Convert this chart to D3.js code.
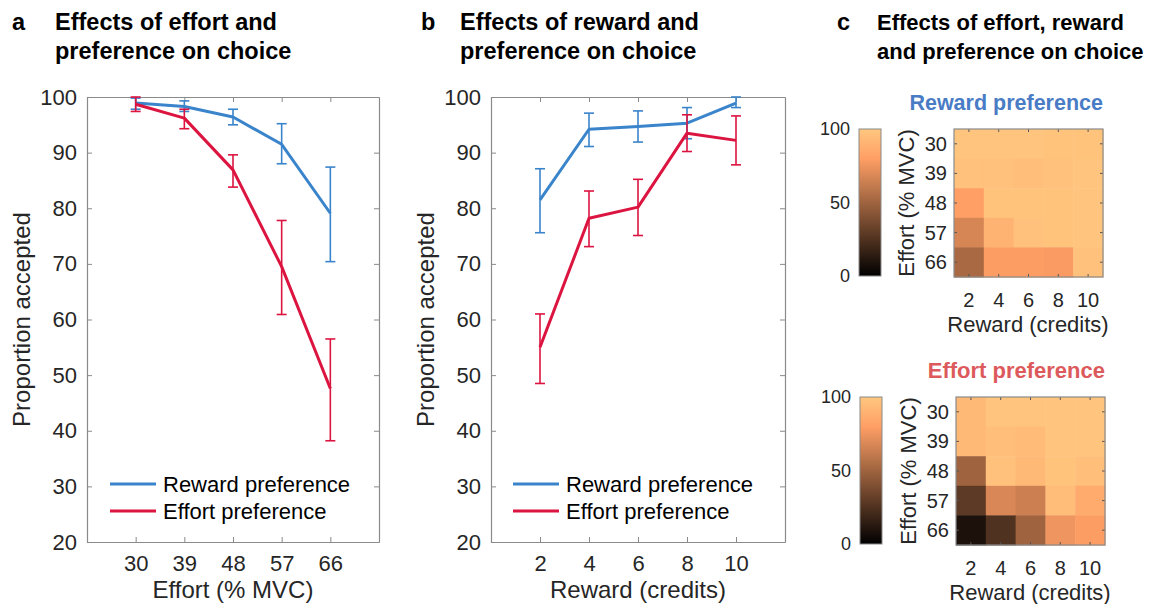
<!DOCTYPE html>
<html>
<head>
<meta charset="utf-8">
<script src="https://cdn.jsdelivr.net/npm/d3@7"></script>
<style>
  body { margin: 0; background: #fff; }
  svg { display: block; font-family: "Liberation Sans", Arial, Helvetica, sans-serif; }
  .title { font-weight: bold; font-size: 23.5px; fill: #000; }
  .tick text { font-size: 22px; fill: #262626; }
  .axis path, .axis line { stroke: #8a8a8a; }
  .lab { font-size: 24px; fill: #262626; }
  .leg { font-size: 22px; fill: #000; }
  .hlab { font-size: 22px; fill: #262626; }
  .htick { font-size: 20px; fill: #262626; }
  .cbtick { font-size: 18px; fill: #262626; }
</style>
</head>
<body>
<div id="chart"></div>
<script>
// x categories
const effortLevels = [30, 39, 48, 57, 66]
const rewardLevels = [2, 4, 6, 8, 10]
const yTicks = [20, 30, 40, 50, 60, 70, 80, 90, 100]

// panel a : by effort
const rewardPrefByEffort   = [98.9, 98.3, 96.4, 91.5, 79.1]
const rewardPrefByEffortLo = [97.8, 97.4, 95.0, 88.0, 70.4]
const rewardPrefByEffortHi = [99.8, 99.3, 97.8, 95.2, 87.4]
const effortPrefByEffort   = [98.7, 96.2, 86.9, 69.5, 47.6]
const effortPrefByEffortLo = [97.4, 94.3, 83.8, 60.9, 38.2]
const effortPrefByEffortHi = [100.0, 97.8, 89.6, 77.8, 56.5]

// panel b : by reward
const rewardPrefByReward   = [81.5, 94.2, 94.7, 95.3, 98.9]
const rewardPrefByRewardLo = [75.6, 91.1, 91.9, 92.5, 98.1]
const rewardPrefByRewardHi = [87.1, 97.1, 97.5, 98.1, 100.0]
const effortPrefByReward   = [55.0, 78.2, 80.2, 93.5, 92.2]
const effortPrefByRewardLo = [48.5, 73.1, 75.1, 90.2, 87.8]
const effortPrefByRewardHi = [61.0, 83.1, 85.2, 96.8, 96.6]

// panel c : rows = effort 30..66, cols = reward 2..10
const rewardPrefGrid = [
  [99, 99, 99, 98, 98],
  [97, 97, 96, 97, 99],
  [80, 98, 98, 98, 99],
  [67, 90, 97, 98, 99],
  [53, 79, 79, 78, 97]
]
const effortPrefGrid = [
  [93, 99, 99, 99, 99],
  [93, 96, 94, 99, 99],
  [50, 97, 93, 98, 96],
  [29, 68, 64, 95, 86],
  [9, 25, 50, 75, 79]
]
const colorbarTicks = [0, 50, 100]

const blue = '#3a84cb'
const red = '#dc1440'

const svg = d3.select('#chart').append('svg')
  .attr('width', 1157)
  .attr('height', 604)

svg.append('rect').attr('width', 1157).attr('height', 604).attr('fill', '#fff')

// titles
const titles = [
  {x: 12, tx: 55, size: 23.5, letter: 'a', lines: ['Effects of effort and', 'preference on choice']},
  {x: 421, tx: 460, size: 23.5, letter: 'b', lines: ['Effects of reward and', 'preference on choice']},
  {x: 837, tx: 877, size: 22, letter: 'c', lines: ['Effects of effort, reward', 'and preference on choice']}
]
titles.forEach(t => {
  svg.append('text').attr('class', 'title').attr('x', t.x).attr('y', 30).text(t.letter)
  t.lines.forEach((l, i) => {
    svg.append('text').attr('class', 'title').attr('x', t.tx).attr('y', 30 + i * 29)
      .style('font-size', t.size + 'px').text(l)
  })
})

const copper = v => {
  let x = v / 100
  return d3.rgb(255 * Math.min(1, 1.25 * x), 255 * 0.7812 * x, 255 * 0.4975 * x)
}

function linePanel(cfg) {
  const x = d3.scaleLinear().domain(cfg.xDomain).range([cfg.left, cfg.right])
  const y = d3.scaleLinear().domain([20, 100]).range([542, 97])
  const g = svg.append('g')
  const h = 542 - 97, w = cfg.right - cfg.left

  g.append('g').attr('class', 'axis').attr('transform', `translate(${cfg.left},0)`)
    .call(d3.axisLeft(y).tickValues(yTicks).tickSizeInner(-5).tickSizeOuter(0).tickPadding(10))
  g.append('g').attr('class', 'axis').attr('transform', `translate(${cfg.right},0)`)
    .call(d3.axisRight(y).tickValues(yTicks).tickSizeInner(-5).tickSizeOuter(0).tickFormat(''))
  g.append('g').attr('class', 'axis').attr('transform', 'translate(0,542)')
    .call(d3.axisBottom(x).tickValues(cfg.cats).tickSizeInner(-5).tickSizeOuter(0).tickPadding(13))
  g.append('g').attr('class', 'axis').attr('transform', 'translate(0,97)')
    .call(d3.axisTop(x).tickValues(cfg.cats).tickSizeInner(-5).tickSizeOuter(0).tickFormat(''))
  g.selectAll('.domain').attr('stroke', '#8a8a8a').attr('stroke-width', 1.2)

  g.append('text').attr('class', 'lab')
    .attr('transform', `translate(${cfg.left - 57},${97 + h / 2}) rotate(-90)`)
    .attr('text-anchor', 'middle').text('Proportion accepted')
  g.append('text').attr('class', 'lab')
    .attr('x', cfg.left + w / 2).attr('y', 598)
    .attr('text-anchor', 'middle').text(cfg.xLabel)

  cfg.series.forEach(s => {
    const pts = cfg.cats.map((c, i) => ({c, m: s.mean[i], lo: s.lo[i], hi: s.hi[i]}))
    const eb = g.append('g').attr('stroke', s.color).attr('stroke-width', 1.6)
    eb.selectAll('.v').data(pts).enter().append('line')
      .attr('x1', d => x(d.c)).attr('x2', d => x(d.c))
      .attr('y1', d => y(d.lo)).attr('y2', d => y(d.hi))
    eb.selectAll('.t').data(pts).enter().append('line')
      .attr('x1', d => x(d.c) - 5).attr('x2', d => x(d.c) + 5)
      .attr('y1', d => y(d.hi)).attr('y2', d => y(d.hi))
    eb.selectAll('.b').data(pts).enter().append('line')
      .attr('x1', d => x(d.c) - 5).attr('x2', d => x(d.c) + 5)
      .attr('y1', d => y(d.lo)).attr('y2', d => y(d.lo))
    g.append('path').datum(pts)
      .attr('fill', 'none').attr('stroke', s.color).attr('stroke-width', 3)
      .attr('stroke-linejoin', 'round')
      .attr('d', d3.line().x(d => x(d.c)).y(d => y(d.m)))
  })

  cfg.series.forEach((s, i) => {
    let ly = 484 + i * 27
    g.append('line').attr('x1', cfg.legX).attr('x2', cfg.legX + 46)
      .attr('y1', ly).attr('y2', ly).attr('stroke', s.color).attr('stroke-width', 3)
    g.append('text').attr('class', 'leg').attr('x', cfg.legX + 53).attr('y', ly + 8).text(s.name)
  })
}

linePanel({
  left: 87, right: 379, xDomain: [21, 75], cats: effortLevels, xLabel: 'Effort (% MVC)', legX: 110,
  series: [
    {name: 'Reward preference', color: blue, mean: rewardPrefByEffort, lo: rewardPrefByEffortLo, hi: rewardPrefByEffortHi},
    {name: 'Effort preference', color: red, mean: effortPrefByEffort, lo: effortPrefByEffortLo, hi: effortPrefByEffortHi}
  ]
})

linePanel({
  left: 491, right: 785, xDomain: [0, 12], cats: rewardLevels, xLabel: 'Reward (credits)', legX: 513,
  series: [
    {name: 'Reward preference', color: blue, mean: rewardPrefByReward, lo: rewardPrefByRewardLo, hi: rewardPrefByRewardHi},
    {name: 'Effort preference', color: red, mean: effortPrefByReward, lo: effortPrefByRewardLo, hi: effortPrefByRewardHi}
  ]
})

// copper gradient for colorbars
const defs = svg.append('defs')
const grad = defs.append('linearGradient').attr('id', 'copper')
  .attr('x1', 0).attr('y1', 1).attr('x2', 0).attr('y2', 0)
d3.range(0, 101, 10).forEach(v => {
  grad.append('stop').attr('offset', v + '%').attr('stop-color', copper(v))
})

function heatPanel(cfg) {
  const g = svg.append('g')
  const x = d3.scaleBand().domain(rewardLevels).range([cfg.left, cfg.left + 149])
  const y = d3.scaleBand().domain(effortLevels).range([cfg.top, cfg.top + 148])
  const cells = []
  cfg.grid.forEach((row, r) => row.forEach((v, c) => cells.push({e: effortLevels[r], w: rewardLevels[c], v})))

  g.selectAll('.cell').data(cells).enter().append('rect')
    .attr('x', d => x(d.w)).attr('y', d => y(d.e))
    .attr('width', x.bandwidth() + 0.5).attr('height', y.bandwidth() + 0.5)
    .attr('fill', d => copper(d.v))

  const xc = d => x(d) + x.bandwidth() / 2
  const yc = d => y(d) + y.bandwidth() / 2
  const tk = g.append('g').attr('stroke', '#555').attr('stroke-width', 1)
  rewardLevels.forEach(d => {
    tk.append('line').attr('x1', xc(d)).attr('x2', xc(d)).attr('y1', cfg.top).attr('y2', cfg.top + 3)
    tk.append('line').attr('x1', xc(d)).attr('x2', xc(d)).attr('y1', cfg.top + 148).attr('y2', cfg.top + 145)
  })
  effortLevels.forEach(d => {
    tk.append('line').attr('y1', yc(d)).attr('y2', yc(d)).attr('x1', cfg.left).attr('x2', cfg.left + 3)
    tk.append('line').attr('y1', yc(d)).attr('y2', yc(d)).attr('x1', cfg.left + 149).attr('x2', cfg.left + 146)
  })
  g.append('rect').attr('x', cfg.left).attr('y', cfg.top).attr('width', 149).attr('height', 148)
    .attr('fill', 'none').attr('stroke', '#8a8a8a').attr('stroke-width', 1.2)

  g.selectAll('.xt').data(rewardLevels).enter().append('text').attr('class', 'htick')
    .attr('x', d => xc(d)).attr('y', cfg.top + 178).attr('text-anchor', 'middle').text(d => d)
  g.selectAll('.yt').data(effortLevels).enter().append('text').attr('class', 'htick')
    .attr('x', cfg.left - 7).attr('y', d => yc(d) + 7).attr('text-anchor', 'end').text(d => d)

  g.append('text').attr('class', 'hlab').attr('x', cfg.left + 74).attr('y', cfg.top + 203)
    .attr('text-anchor', 'middle').text('Reward (credits)')
  g.append('text').attr('class', 'hlab')
    .attr('transform', `translate(${cfg.left - 40},${cfg.top + 74}) rotate(-90)`)
    .attr('text-anchor', 'middle').text('Effort (% MVC)')

  g.append('text').attr('x', cfg.left + 149).attr('y', cfg.top - 19)
    .attr('text-anchor', 'end').attr('font-weight', 'bold').attr('font-size', cfg.titleSize + 'px')
    .attr('fill', cfg.titleColor).text(cfg.title)

  // colorbar
  const cy = d3.scaleLinear().domain([0, 100]).range([cfg.top + 147, cfg.top])
  g.append('rect').attr('x', cfg.cbLeft).attr('y', cfg.top).attr('width', 22).attr('height', 147)
    .attr('fill', 'url(#copper)').attr('stroke', '#8a8a8a').attr('stroke-width', 1)
  g.selectAll('.cb').data(colorbarTicks).enter().append('text').attr('class', 'cbtick')
    .attr('x', cfg.cbLeft - 9).attr('y', d => cy(d) + 6).attr('text-anchor', 'end').text(d => d)
}

heatPanel({left: 954, top: 129, cbLeft: 859, grid: rewardPrefGrid, title: 'Reward preference', titleSize: 21.5, titleColor: '#4a7cc6'})
heatPanel({left: 956, top: 397, cbLeft: 860, grid: effortPrefGrid, title: 'Effort preference', titleSize: 22, titleColor: '#dd5a5c'})
</script>
</body>
</html>
